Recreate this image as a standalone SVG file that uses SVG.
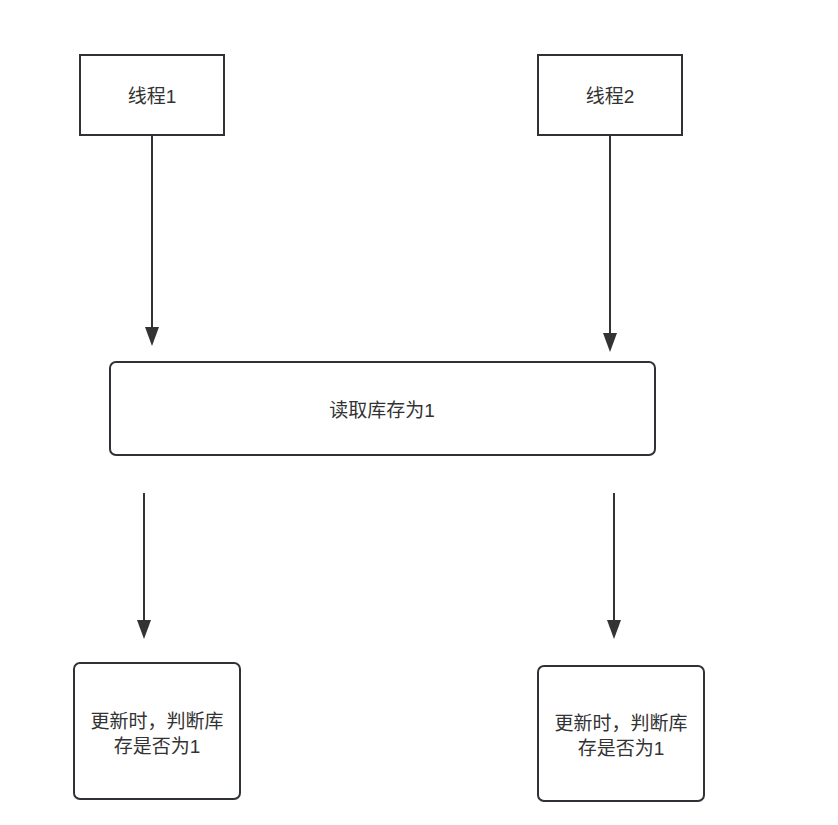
<svg xmlns="http://www.w3.org/2000/svg" width="838" height="825" viewBox="0 0 838 825">
<defs>
<style>
.box{fill:#fff;stroke:#2e3236;stroke-width:2}
.t{font-family:"Liberation Sans","Noto Sans CJK SC",sans-serif;font-size:19px;fill:#333;text-anchor:middle}
.c{stroke:#333;stroke-width:2;fill:none}
.h{fill:#333}
</style>
</defs>
<rect width="838" height="825" fill="#fff"/>
<g id="connectors">
<line class="c" x1="152" y1="136" x2="152" y2="328"/><path class="h" d="M145,327 L159,327 L152,346 Z"/>
<line class="c" x1="610" y1="136" x2="610" y2="334"/><path class="h" d="M603,333 L617,333 L610,352 Z"/>
<line class="c" x1="144" y1="493" x2="144" y2="621"/><path class="h" d="M137,620 L151,620 L144,639 Z"/>
<line class="c" x1="614" y1="493" x2="614" y2="621"/><path class="h" d="M607,620 L621,620 L614,639 Z"/>
</g>
<g id="t1"><rect class="box" x="80" y="55" width="144" height="80"/><text class="t" x="152" y="103">线程1</text></g>
<g id="t2"><rect class="box" x="538" y="55" width="144" height="80"/><text class="t" x="610" y="103">线程2</text></g>
<g id="read"><rect class="box" x="110" y="362" width="545" height="93" rx="6"/><text class="t" x="382" y="417">读取库存为1</text></g>
<g id="u1"><rect class="box" x="74" y="663" width="166" height="136" rx="6"/><text class="t" x="157" y="728">更新时，判断库</text><text class="t" x="157" y="753">存是否为1</text></g>
<g id="u2"><rect class="box" x="538" y="666" width="166" height="135" rx="6"/><text class="t" x="621" y="730">更新时，判断库</text><text class="t" x="621" y="755">存是否为1</text></g>
</svg>
